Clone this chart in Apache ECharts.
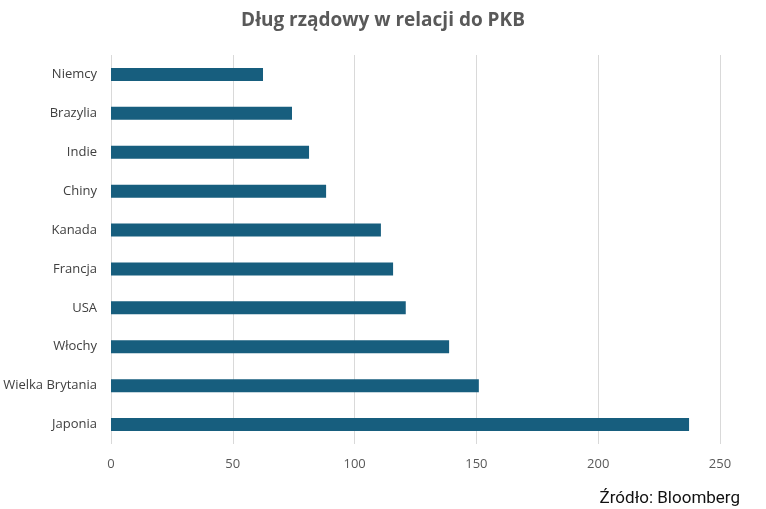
<!DOCTYPE html>
<html>
<head>
<meta charset="utf-8">
<script src="https://cdn.jsdelivr.net/npm/echarts@6/dist/echarts.min.js"></script>
<style>
  html, body { margin: 0; padding: 0; background: #fff; }
  #chart { width: 766px; height: 509px; }
</style>
</head>
<body>
<div id="chart"></div>
<script>
// Data (top to bottom as shown)
const countries = ['Niemcy', 'Brazylia', 'Indie', 'Chiny', 'Kanada', 'Francja', 'USA', 'Włochy', 'Wielka Brytania', 'Japonia'];
const debtToGdp = [62.4, 74.3, 81.3, 88.3, 110.8, 115.8, 121, 138.8, 151, 237.3];

const chart = echarts.init(document.getElementById('chart'), null, { renderer: 'canvas' });

chart.setOption({
    backgroundColor: '#ffffff',
    animation: false,
    title: {
        text: 'Dług rządowy w relacji do PKB',
        left: 'center',
        top: 6,
        textStyle: { color: '#595959', fontSize: 19, fontWeight: 'bold', fontFamily: 'Open Sans, sans-serif' }
    },
    graphic: [{
        type: 'text',
        right: 26,
        bottom: 2,
        style: { text: 'Źródło: Bloomberg', fill: '#111', fontSize: 17, fontFamily: 'Roboto, sans-serif' }
    }],
    grid: { left: 111, right: 46, top: 55, bottom: 65 },
    xAxis: {
        type: 'value',
        min: 0,
        max: 250,
        interval: 50,
        axisLine: { show: false },
        axisTick: { show: false },
        axisLabel: { color: '#595959', fontSize: 13, margin: 14, fontFamily: 'Open Sans, sans-serif' },
        splitLine: { lineStyle: { color: '#d9d9d9', width: 1 } }
    },
    yAxis: {
        type: 'category',
        data: countries,
        inverse: true,
        axisLine: { show: false },
        axisTick: { show: false },
        axisLabel: { color: '#404040', fontSize: 13, margin: 14, fontFamily: 'Open Sans, sans-serif' }
    },
    series: [{
        type: 'bar',
        data: debtToGdp,
        barWidth: 13,
        itemStyle: { color: '#175e7e' }
    }]
});
</script>
</body>
</html>
